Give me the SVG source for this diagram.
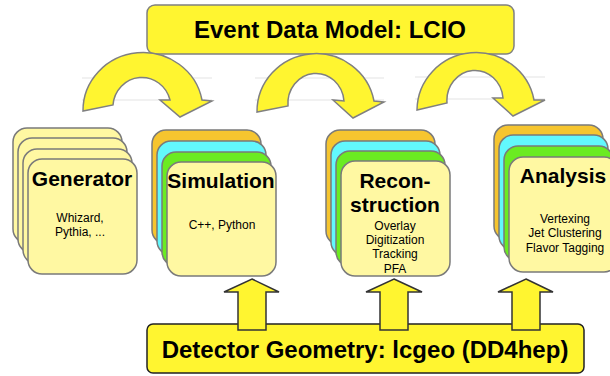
<svg xmlns="http://www.w3.org/2000/svg" width="610" height="376" viewBox="0 0 610 376">
<style>
.bar{fill:#FFF530;stroke:#808080;stroke-width:1.5}
.bar2{fill:#FFF530;stroke:#222;stroke-width:1.5}
.card{stroke:#7a7a7a;stroke-width:1.5}
.y{fill:#FFF8A2}
.o{fill:#F6C52F}
.c{fill:#62F8FD}
.g{fill:#6BEB22}
.arc{fill:#FFF530;stroke:#808080;stroke-width:1.5;stroke-linejoin:miter}
.up{fill:#FFF530;stroke:#333;stroke-width:1.5}
.faint{stroke:#ececec;stroke-width:1.5}
.big{font-family:"Liberation Sans",Arial,sans-serif;font-weight:bold;font-size:24px;fill:#000;text-anchor:middle}
.ttl{font-family:"Liberation Sans",Arial,sans-serif;font-weight:bold;font-size:21px;fill:#000;text-anchor:middle}
.sub{font-family:"Liberation Sans",Arial,sans-serif;font-size:12px;fill:#000;text-anchor:middle}
</style>
<g id="faint-lines">
<line class="faint" x1="82" y1="78" x2="212" y2="78"/>
<line class="faint" x1="82" y1="100" x2="212" y2="100"/>
<line class="faint" x1="255" y1="78" x2="384" y2="78"/>
<line class="faint" x1="255" y1="100" x2="384" y2="100"/>
<line class="faint" x1="415" y1="77" x2="545" y2="77"/>
<line class="faint" x1="415" y1="99" x2="545" y2="99"/>
</g>
<g id="event-data-model">
<rect class="bar" x="147" y="5" width="367" height="49" rx="8"/>
<text class="big" x="330" y="38">Event Data Model: LCIO</text>
</g>
<g id="generator">
<rect class="card y" x="13" y="128" width="109" height="115" rx="14"/>
<rect class="card y" x="18" y="138" width="109" height="115" rx="14"/>
<rect class="card y" x="23" y="149" width="109" height="115" rx="14"/>
<rect class="card y" x="28" y="159" width="109" height="115" rx="14"/>
<text class="ttl" x="82" y="186">Generator</text>
<text class="sub" x="80" y="222">Whizard,</text>
<text class="sub" x="80" y="236">Pythia, ...</text>
</g>
<g id="simulation">
<rect class="card o" x="152" y="130" width="109" height="114" rx="14"/>
<rect class="card c" x="157" y="141" width="109" height="114" rx="14"/>
<rect class="card g" x="162" y="152" width="109" height="114" rx="14"/>
<rect class="card y" x="167" y="162" width="109" height="114" rx="14"/>
<text class="ttl" x="221" y="188">Simulation</text>
<text class="sub" x="222" y="229">C++, Python</text>
</g>
<g id="reconstruction">
<rect class="card o" x="326" y="130" width="109" height="115" rx="14"/>
<rect class="card c" x="331" y="141" width="109" height="115" rx="14"/>
<rect class="card g" x="336" y="151" width="109" height="115" rx="14"/>
<rect class="card y" x="341" y="161" width="109" height="115" rx="14"/>
<text class="ttl" x="395" y="188">Recon-</text>
<text class="ttl" x="395" y="212">struction</text>
<text class="sub" x="395" y="230">Overlay</text>
<text class="sub" x="395" y="244">Digitization</text>
<text class="sub" x="395" y="258">Tracking</text>
<text class="sub" x="395" y="273">PFA</text>
</g>
<g id="analysis">
<rect class="card o" x="494" y="125" width="109" height="115" rx="14"/>
<rect class="card c" x="499" y="135" width="109" height="115" rx="14"/>
<rect class="card g" x="504" y="146" width="109" height="115" rx="14"/>
<rect class="card y" x="509" y="157" width="109" height="115" rx="14"/>
<text class="ttl" x="563" y="183">Analysis</text>
<text class="sub" x="565" y="223">Vertexing</text>
<text class="sub" x="565" y="237">Jet Clustering</text>
<text class="sub" x="565" y="252">Flavor Tagging</text>
</g>
<g id="detector-geometry">
<rect class="bar2" x="147" y="324" width="437" height="49" rx="6"/>
<text class="big" x="365" y="358">Detector Geometry: lcgeo (DD4hep)</text>
</g>
<g id="connectors">
<path class="arc" d="M83,111 A60,58 0 0 1 202,100 L212,101 L180,117 L160,100 L170,100 A29,30 0 0 0 113,105 Z"/>
<path class="arc" d="M257,112 A59,58 0 0 1 374,101 L384,102 L353,118 L333,100 L344,101 A28,30 0 0 0 288,106 Z"/>
<path class="arc" d="M417,110 A59,58 0 0 1 534,100 L545,100 L513,116 L493,98 L503,98 A28,30 0 0 0 447,103 Z"/>
<path class="up" d="M252,279 L279,292 L266,292 L266,330 L238,330 L238,292 L224,292 Z"/>
<path class="up" d="M394,279 L422,292 L408,292 L408,330 L380,330 L380,292 L366,292 Z"/>
<path class="up" d="M526,279 L553,292 L540,292 L540,330 L512,330 L512,292 L498,292 Z"/>
</g>
</svg>
